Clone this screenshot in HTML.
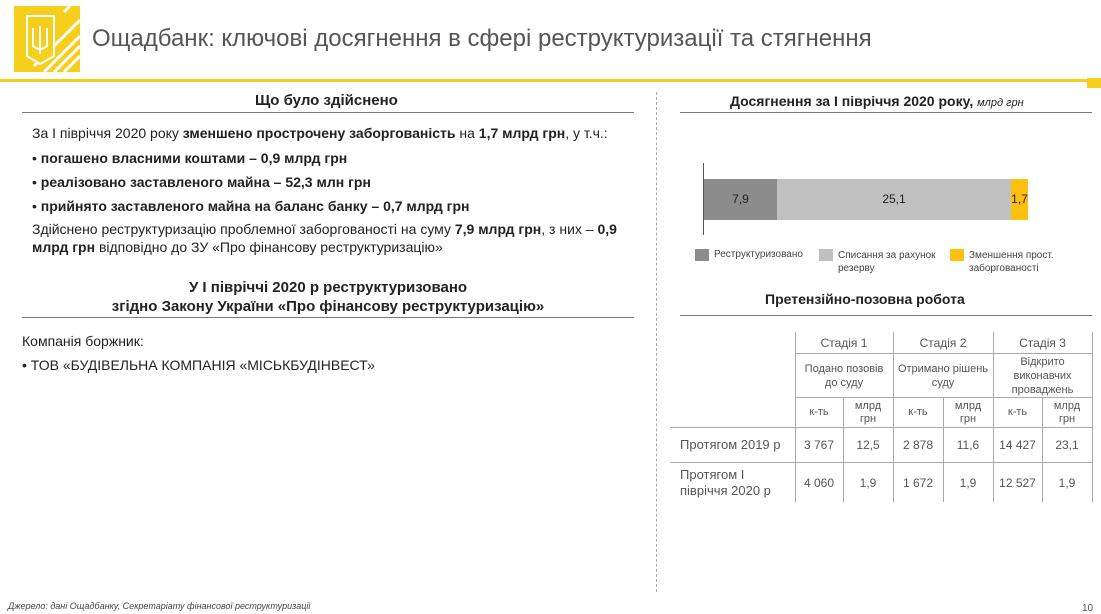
<!DOCTYPE html>
<html><head><meta charset="utf-8"><style>
body{margin:0;width:1101px;height:614px;background:#fff;position:relative;overflow:hidden;font-family:"Liberation Sans",sans-serif;color:#222}
.a{position:absolute;white-space:nowrap}
.b{font-weight:bold}
.t{font-size:14px}
</style></head><body>
<div class="a" style="left:14px;top:6px;width:66px;height:66px;background:#f5cf1c;overflow:hidden">
<svg width="66" height="66"><g stroke="#fff" stroke-width="3" fill="none"><path d="M30 66 L66 30M40 66 L66 40M50 66 L66 50M20 60 L66 14M56 0 L50 6"/></g>
<path d="M13 10 H40 V50 L26 58 L13 50Z" fill="#f5cf1c" stroke="#fff" stroke-width="2"/>
<path d="M26 20 V48 M19 22 V40 Q26 46 33 40 V22" stroke="#fff" stroke-width="2" fill="none"/></svg></div>
<div class="a" style="left:92px;top:25px;font-size:24px;color:#555">Ощадбанк: ключові досягнення в сфері реструктуризації та стягнення</div>
<div class="a" style="left:0;top:79px;width:1101px;height:3px;background:#f5cf1c"></div>
<div class="a" style="left:1087px;top:78px;width:14px;height:10px;background:#f5cf1c"></div>

<div class="a b" style="left:255px;top:92px;font-size:15px">Що було здійснено</div>
<div class="a" style="left:22px;top:112px;width:612px;height:1px;background:#777"></div>
<div class="a t" style="left:32px;top:125px">За І півріччя 2020 року <b>зменшено прострочену заборгованість</b> на <b>1,7 млрд грн</b>, у т.ч.:</div>
<div class="a t" style="left:32px;top:150px">• <b>погашено власними коштами – 0,9 млрд грн</b></div>
<div class="a t" style="left:32px;top:174px">• <b>реалізовано заставленого майна – 52,3 млн грн</b></div>
<div class="a t" style="left:32px;top:198px">• <b>прийнято заставленого майна на баланс банку – 0,7 млрд грн</b></div>
<div class="a t" style="left:32px;top:220px;line-height:18px">Здійснено реструктуризацію проблемної заборгованості на суму <b>7,9 млрд грн</b>, з них – <b>0,9</b><br><b>млрд грн</b> відповідно до ЗУ «Про фінансову реструктуризацію»</div>
<div class="a b" style="left:22px;top:278px;width:612px;text-align:center;font-size:15px;line-height:19px;white-space:normal">У І півріччі 2020 р реструктуризовано<br>згідно Закону України «Про фінансову реструктуризацію»</div>
<div class="a" style="left:22px;top:317px;width:612px;height:1px;background:#777"></div>
<div class="a t" style="left:22px;top:333px">Компанія боржник:</div>
<div class="a t" style="left:22px;top:357px">• ТОВ «БУДІВЕЛЬНА КОМПАНІЯ «МІСЬКБУДІНВЕСТ»</div>

<div class="a" style="left:656px;top:92px;height:500px;border-left:1px dashed #aaa"></div>

<div class="a b" style="left:730px;top:93px;font-size:14px">Досягнення за І півріччя 2020 року, <i style="font-weight:normal;font-size:11px">млрд грн</i></div>
<div class="a" style="left:680px;top:112px;width:412px;height:1px;background:#777"></div>
<div class="a" style="left:703px;top:163px;width:1px;height:72px;background:#555"></div>
<div class="a" style="left:704px;top:179px;width:73px;height:41px;background:#8c8c8c;text-align:center;line-height:41px;font-size:12px">7,9</div>
<div class="a" style="left:777px;top:179px;width:234px;height:41px;background:#c0c0c0;text-align:center;line-height:41px;font-size:12px">25,1</div>
<div class="a" style="left:1011px;top:179px;width:17px;height:41px;background:#fdc00f;text-align:center;line-height:41px;font-size:12px">1,7</div>
<div class="a" style="left:695px;top:249px;width:14px;height:12px;background:#8c8c8c"></div>
<div class="a" style="left:714px;top:249px;font-size:10px;color:#444">Реструктуризовано</div>
<div class="a" style="left:819px;top:249px;width:14px;height:12px;background:#c0c0c0"></div>
<div class="a" style="left:838px;top:249px;font-size:10px;color:#444;line-height:13px">Списання за рахунок<br>резерву</div>
<div class="a" style="left:950px;top:249px;width:14px;height:12px;background:#fdc00f"></div>
<div class="a" style="left:969px;top:249px;font-size:10px;color:#444;line-height:13px">Зменшення прост.<br>заборгованості</div>

<div class="a b" style="left:765px;top:291px;font-size:14px">Претензійно-позовна робота</div>
<div class="a" style="left:680px;top:315px;width:412px;height:1px;background:#777"></div>

<div class="a" style="left:795px;top:332px;width:1px;height:170px;background:#aaa"></div>
<div class="a" style="left:843px;top:397px;width:1px;height:105px;background:#aaa"></div>
<div class="a" style="left:893px;top:332px;width:1px;height:170px;background:#aaa"></div>
<div class="a" style="left:943px;top:397px;width:1px;height:105px;background:#aaa"></div>
<div class="a" style="left:993px;top:332px;width:1px;height:170px;background:#aaa"></div>
<div class="a" style="left:1042px;top:397px;width:1px;height:105px;background:#aaa"></div>
<div class="a" style="left:1092px;top:332px;width:1px;height:170px;background:#aaa"></div>
<div class="a" style="left:795px;top:353px;width:297px;height:1px;background:#aaa"></div>
<div class="a" style="left:795px;top:397px;width:297px;height:1px;background:#aaa"></div>
<div class="a" style="left:670px;top:427px;width:422px;height:1px;background:#aaa"></div>
<div class="a" style="left:670px;top:462px;width:422px;height:1px;background:#aaa"></div>
<div style="font-size:12px;color:#555">
<div class="a" style="left:795px;top:336px;width:98px;text-align:center">Стадія 1</div>
<div class="a" style="left:893px;top:336px;width:100px;text-align:center">Стадія 2</div>
<div class="a" style="left:993px;top:336px;width:99px;text-align:center">Стадія 3</div>
<div class="a" style="left:795px;top:362px;width:98px;text-align:center;font-size:11px;line-height:14px">Подано позовів<br>до суду</div>
<div class="a" style="left:893px;top:362px;width:100px;text-align:center;font-size:11px;line-height:14px">Отримано рішень<br>суду</div>
<div class="a" style="left:993px;top:355px;width:99px;text-align:center;font-size:11px;line-height:14px">Відкрито<br>виконавчих<br>проваджень</div>
<div class="a" style="left:795px;top:406px;width:48px;text-align:center;font-size:11px">к-ть</div>
<div class="a" style="left:843px;top:400px;width:50px;text-align:center;font-size:11px;line-height:13px">млрд<br>грн</div>
<div class="a" style="left:893px;top:406px;width:50px;text-align:center;font-size:11px">к-ть</div>
<div class="a" style="left:943px;top:400px;width:50px;text-align:center;font-size:11px;line-height:13px">млрд<br>грн</div>
<div class="a" style="left:993px;top:406px;width:49px;text-align:center;font-size:11px">к-ть</div>
<div class="a" style="left:1042px;top:400px;width:50px;text-align:center;font-size:11px;line-height:13px">млрд<br>грн</div>
<div class="a" style="left:680px;top:437px;font-size:13px">Протягом 2019 р</div>
<div class="a" style="left:680px;top:467px;font-size:13px;line-height:16px">Протягом І<br>півріччя 2020 р</div>
<div class="a" style="left:795px;top:438px;width:48px;text-align:center">3 767</div>
<div class="a" style="left:843px;top:438px;width:50px;text-align:center">12,5</div>
<div class="a" style="left:893px;top:438px;width:50px;text-align:center">2 878</div>
<div class="a" style="left:943px;top:438px;width:50px;text-align:center">11,6</div>
<div class="a" style="left:993px;top:438px;width:49px;text-align:center">14 427</div>
<div class="a" style="left:1042px;top:438px;width:50px;text-align:center">23,1</div>
<div class="a" style="left:795px;top:476px;width:48px;text-align:center">4 060</div>
<div class="a" style="left:843px;top:476px;width:50px;text-align:center">1,9</div>
<div class="a" style="left:893px;top:476px;width:50px;text-align:center">1 672</div>
<div class="a" style="left:943px;top:476px;width:50px;text-align:center">1,9</div>
<div class="a" style="left:993px;top:476px;width:49px;text-align:center">12 527</div>
<div class="a" style="left:1042px;top:476px;width:50px;text-align:center">1,9</div>
</div>
<div class="a" style="left:8px;top:601px;font-size:9px;font-style:italic;color:#444">Джерело: дані Ощадбанку, Секретаріату фінансової реструктуризації</div>
<div class="a" style="left:1082px;top:603px;font-size:10px;color:#555">10</div>
</body></html>
